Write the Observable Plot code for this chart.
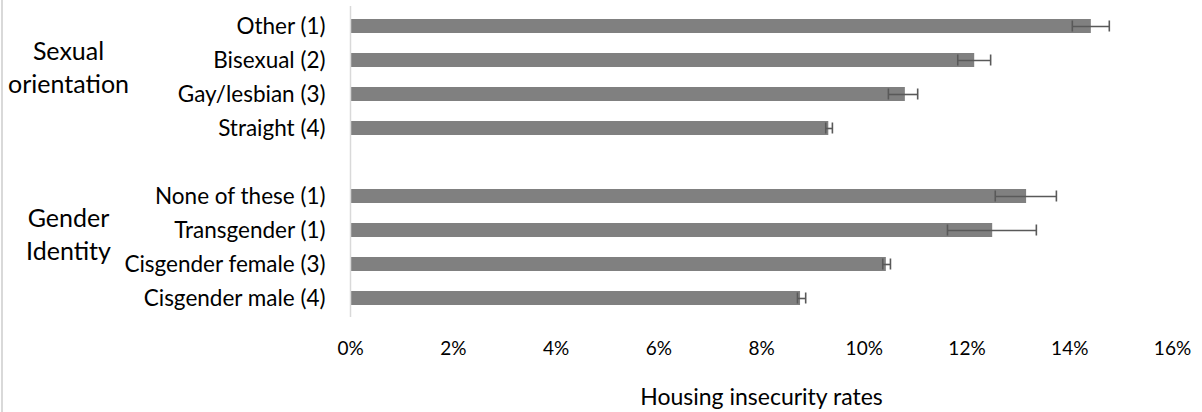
<!DOCTYPE html>
<html>
<head>
<meta charset="utf-8">
<script src="https://cdn.jsdelivr.net/npm/d3@7"></script>
<script src="https://cdn.jsdelivr.net/npm/@observablehq/plot@0.6"></script>
<style>
  html, body { margin: 0; padding: 0; background: #fff; }
  #chart { position: relative; width: 1202px; height: 412px; }
  #chart svg { display: block; }
  .border { position: absolute; left: 1px; top: 0; width: 2px; height: 412px; background: #d9d9d9; }
</style>
</head>
<body>
<div id="chart"><div class="border"></div></div>
<script>
const categories = ["Other (1)", "Bisexual (2)", "Gay/lesbian (3)", "Straight (4)", "", "None of these (1)", "Transgender (1)", "Cisgender female (3)", "Cisgender male (4)"];
const rates   = [14.42, 12.15, 10.80, 9.31, null, 13.16, 12.50, 10.43, 8.76];
const errLow  = [14.05, 11.82, 10.47, 9.25, null, 12.55, 11.62, 10.36, 8.70];
const errHigh = [14.77, 12.46, 11.04, 9.38, null, 13.74, 13.35, 10.51, 8.86];
const xTicks = [0, 2, 4, 6, 8, 10, 12, 14, 16];
const groupLabels = ["Sexual\norientation", "Gender\nIdentity"];
const groupAnchors = ["Bisexual (2)", "Transgender (1)"];
const xLabel = "Housing insecurity rates";

const rows = categories.map((c, i) => ({cat: c, rate: rates[i], lo: errLow[i], hi: errHigh[i]})).filter(d => d.rate != null);
const groups = groupLabels.map((g, i) => ({label: g, cat: groupAnchors[i]}));

const font = "Lato, 'Open Sans', sans-serif";
const errColor = "#595959";
const plot = Plot.plot({
  width: 1202,
  height: 412,
  marginLeft: 350,
  marginRight: 30,
  marginTop: 6,
  marginBottom: 95,
  style: {fontFamily: font, fontSize: "22px", color: "#000", background: "#fff", overflow: "visible"},
  x: {domain: [0, 16], ticks: xTicks, tickFormat: d => d + "%", label: null},
  y: {domain: categories, paddingInner: 0.59, paddingOuter: 0.295, label: null},
  marks: [
    Plot.barX(rows, {x: "rate", y: "cat", fill: "#808080"}),
    Plot.link(rows, {x1: "lo", x2: "hi", y1: "cat", y2: "cat", stroke: errColor, strokeWidth: 1.6}),
    Plot.tickX(rows, {x: "lo", y: "cat", stroke: errColor, strokeWidth: 1.6, insetTop: 1.5, insetBottom: 1.5}),
    Plot.tickX(rows, {x: "hi", y: "cat", stroke: errColor, strokeWidth: 1.6, insetTop: 1.5, insetBottom: 1.5}),
    Plot.ruleX([0], {stroke: "#d9d9d9", strokeWidth: 1.5}),
    Plot.axisX({ticks: xTicks, tickFormat: d => d + "%", tickSize: 0, tickPadding: 24, fontSize: 19, label: null}),
    Plot.axisY({tickSize: 0, tickPadding: 25, fontSize: 22.5, label: null}),
    Plot.text([xLabel], {frameAnchor: "bottom", dy: 87, fontSize: 23, text: d => d}),
    Plot.text(groups.slice(0, 1), {y: "cat", text: "label", frameAnchor: "left", dx: -282, dy: 5, fontSize: 25, lineHeight: 33 / 25, textAnchor: "middle"}),
    Plot.text(groups.slice(1), {y: "cat", text: "label", frameAnchor: "left", dx: -282, dy: 2, fontSize: 25, lineHeight: 33 / 25, textAnchor: "middle"})
  ]
});
document.getElementById("chart").appendChild(plot);
</script>
</body>
</html>
